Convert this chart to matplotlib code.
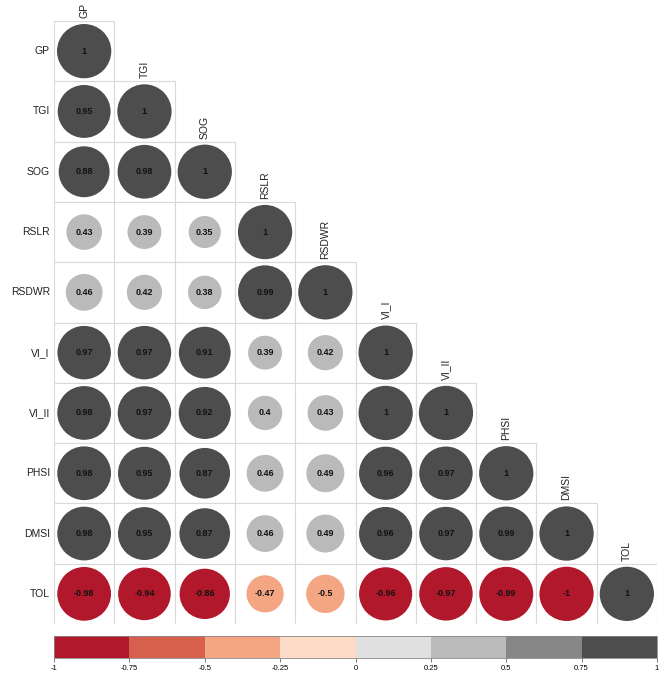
import numpy as np
import matplotlib
matplotlib.use("Agg")
import matplotlib.pyplot as plt
from matplotlib.patches import Circle, Rectangle
from matplotlib.colors import ListedColormap, BoundaryNorm

plt.rcParams['font.family'] = ['Liberation Sans', 'DejaVu Sans']

traits = ['GP', 'TGI', 'SOG', 'RSLR', 'RSDWR', 'VI_I', 'VI_II', 'PHSI', 'DMSI', 'TOL']

# lower triangle of the correlation matrix, row by row
corr_rows = [
    [1],
    [0.95, 1],
    [0.88, 0.98, 1],
    [0.43, 0.39, 0.35, 1],
    [0.46, 0.42, 0.38, 0.99, 1],
    [0.97, 0.97, 0.91, 0.39, 0.42, 1],
    [0.98, 0.97, 0.92, 0.4, 0.43, 1, 1],
    [0.98, 0.95, 0.87, 0.46, 0.49, 0.96, 0.97, 1],
    [0.98, 0.95, 0.87, 0.46, 0.49, 0.96, 0.97, 0.99, 1],
    [-0.98, -0.94, -0.86, -0.47, -0.5, -0.96, -0.97, -0.99, -1, 1],
]

bounds = [-1, -0.75, -0.5, -0.25, 0, 0.25, 0.5, 0.75, 1]
tick_labels = ['-1', '-0.75', '-0.5', '-0.25', '0', '0.25', '0.5', '0.75', '1']
rdgy = ['#B2182B', '#D6604D', '#F4A582', '#FDDBC7',
        '#E0E0E0', '#BABABA', '#878787', '#4D4D4D']

cmap = ListedColormap(rdgy)
norm = BoundaryNorm(bounds, cmap.N, clip=True)

W, H = 662, 677
fig = plt.figure(figsize=(W / 100, H / 100), dpi=100)

# main grid: 10 x 10 cells
gx0, gx1, gy0, gy1 = 54, 657, 21, 624
ax = fig.add_axes([gx0 / W, 1 - gy1 / H, (gx1 - gx0) / W, (gy1 - gy0) / H])
n = len(traits)
ax.set_xlim(0, n)
ax.set_ylim(n, 0)
ax.axis('off')

for i, row in enumerate(corr_rows):
    for j, r in enumerate(row):
        ax.add_patch(Rectangle((j, i), 1, 1, facecolor='white',
                               edgecolor='#D9D9D9', lw=0.8, zorder=1))
        rad = 0.45 * np.sqrt(abs(r))
        ax.add_patch(Circle((j + 0.5, i + 0.5), rad,
                            facecolor=cmap(norm(r)), edgecolor='none', zorder=2))
        ax.text(j + 0.5, i + 0.5, f'{r:g}', ha='center', va='center',
                fontsize=6.5, fontweight='bold', color='#111111', zorder=3)

for i, name in enumerate(traits):
    ax.text(-0.07, i + 0.5, name, ha='right', va='center', fontsize=7.5,
            color='#222222', clip_on=False)
    ax.text(i + 0.5, i - 0.05, name, ha='center', va='bottom', rotation=90,
            fontsize=7.5, color='#222222', clip_on=False)

# binned colour legend
cax = fig.add_axes([gx0 / W, 1 - 658 / H, (gx1 - gx0) / W, 22 / H])
cb = fig.colorbar(plt.cm.ScalarMappable(norm=norm, cmap=cmap), cax=cax,
                  orientation='horizontal', ticks=bounds)
cb.ax.set_xticklabels(tick_labels)
cb.ax.tick_params(labelsize=5.5, length=3, width=0.5, pad=2, color='#444444')
cb.outline.set_edgecolor('#888888')
cb.outline.set_linewidth(0.6)

fig.savefig('out.png', dpi=100)
